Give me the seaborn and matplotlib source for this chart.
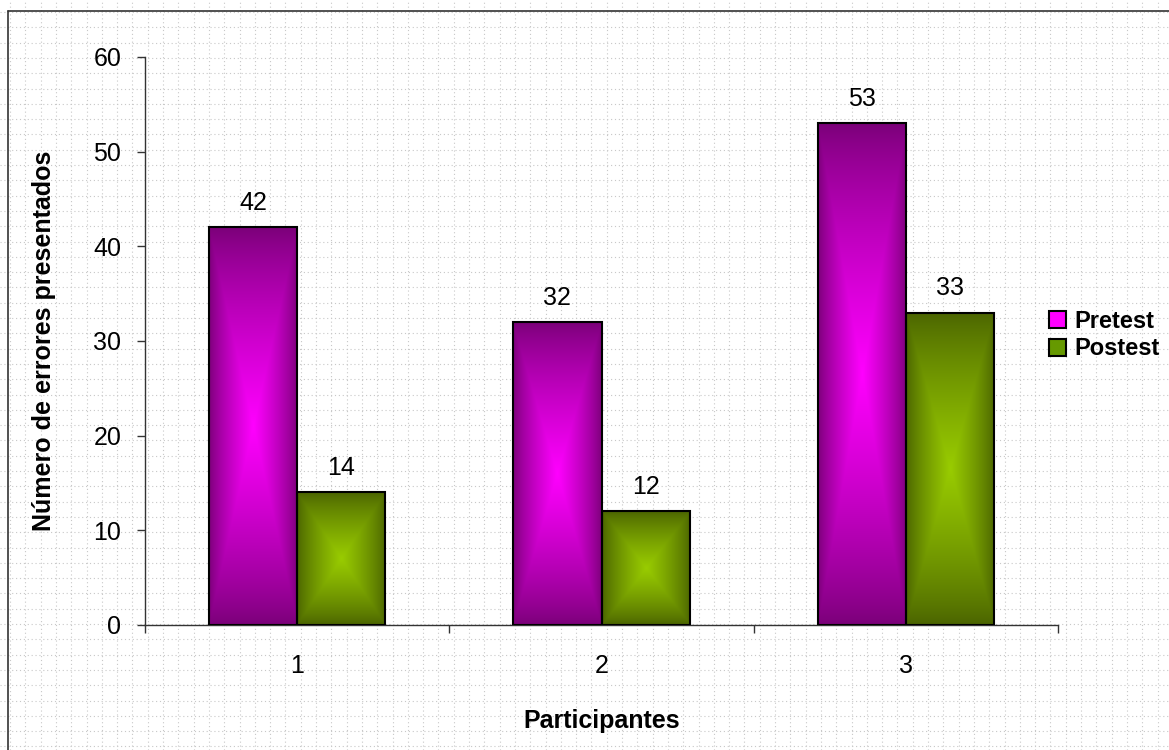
import numpy as np
import pandas as pd
import seaborn as sns
import matplotlib.pyplot as plt
from matplotlib.colors import to_rgb

participantes = ["1", "2", "3"]
pretest = [42, 32, 53]
postest = [14, 12, 33]
series = ["Pretest", "Postest"]

df = pd.DataFrame({
    "Participantes": participantes * 2,
    "Errores": pretest + postest,
    "Prueba": ["Pretest"] * 3 + ["Postest"] * 3,
})

sns.set_style("white")
plt.rcParams["font.family"] = ["Liberation Sans", "DejaVu Sans"]
plt.rcParams["text.color"] = "black"
plt.rcParams["axes.labelcolor"] = "black"
plt.rcParams["xtick.color"] = "black"
plt.rcParams["ytick.color"] = "black"

W, H = 1169, 750
fig = plt.figure(figsize=(W / 100, H / 100), dpi=100)

# dotted background pattern over whole figure
bg = fig.add_axes([0, 0, 1, 1], zorder=-5)
bg.set_xlim(0, W)
bg.set_ylim(H, 0)
bg.axis("off")
for x in np.arange(10, W, 15.3):
    bg.axvline(x, color="#c8c8c8", lw=0.8, ls=(0, (1, 2.5)))
for y in np.arange(12, H, 15.3):
    bg.axhline(y, color="#c8c8c8", lw=0.8, ls=(0, (1, 2.5)))
bg.plot([8, 8], [H, 11], color="#333333", lw=1.2)
bg.plot([8, W], [11, 11], color="#333333", lw=1.2)

ax = fig.add_axes([145 / W, 1 - 625 / H, (1058 - 145) / W, (625 - 57) / H])
ax.set_facecolor("none")

palette = {"Pretest": "#ff00ff", "Postest": "#669900"}
sns.barplot(data=df, x="Participantes", y="Errores", hue="Prueba",
            hue_order=series, order=participantes, palette=palette,
            width=0.58, gap=0, edgecolor="black", linewidth=1.5,
            saturation=1, ax=ax, legend=True, zorder=3)

grad = {"Pretest": ("#7a0078", "#ff00ff"), "Postest": ("#4a6300", "#99cc00")}


def gradient_img(dark, bright, n=200):
    u = np.linspace(-1, 1, n)
    U, V = np.meshgrid(u, u)
    t = 1 - np.maximum(np.abs(U), np.abs(V))
    t = t ** 0.8
    d = np.array(to_rgb(dark))
    b = np.array(to_rgb(bright))
    return d + (b - d) * t[..., None]


for name, cont in zip(series, ax.containers):
    img = gradient_img(*grad[name])
    for p in cont.patches:
        x, y0, w, h = p.get_x(), p.get_y(), p.get_width(), p.get_height()
        p.set_facecolor("none")
        ax.imshow(img, extent=[x, x + w, y0, y0 + h], aspect="auto",
                  zorder=2, interpolation="bilinear")
    ax.bar_label(cont, padding=9, fontsize=18)

ax.set_xlim(-0.5, 2.5)
ax.set_ylim(0, 60)
ax.set_yticks(range(0, 61, 10))
ax.tick_params(axis="y", labelsize=18, length=6, width=1, direction="out",
               pad=11, left=True, color="#333333")
ax.set_xticks([-0.5, 0.5, 1.5, 2.5])
ax.set_xticklabels([])
ax.set_xticks([0, 1, 2], minor=True)
ax.set_xticklabels(participantes, minor=True)
ax.tick_params(axis="x", which="major", length=6, width=1, bottom=True,
               color="#333333")
ax.tick_params(axis="x", which="minor", length=0, labelsize=18, pad=21)

for s in ["top", "right"]:
    ax.spines[s].set_visible(False)
for s in ["left", "bottom"]:
    ax.spines[s].set_color("#333333")
    ax.spines[s].set_linewidth(1)

ax.set_xlabel("Participantes", fontsize=18, fontweight="bold", labelpad=22)
ax.set_ylabel("Número de errores presentados", fontsize=18,
              fontweight="bold", labelpad=27)

leg = ax.legend(loc="center left", bbox_to_anchor=(1049 / W, 1 - 335 / H),
                bbox_transform=fig.transFigure, frameon=False, borderpad=0,
                borderaxespad=0, fontsize=17, handlelength=0.72,
                handleheight=0.72, handletextpad=0.35, labelspacing=0.2)
for t in leg.get_texts():
    t.set_fontweight("bold")
for hnd in leg.legend_handles:
    hnd.set_edgecolor("black")
    hnd.set_linewidth(1.5)

fig.savefig("out.png", dpi=100)
